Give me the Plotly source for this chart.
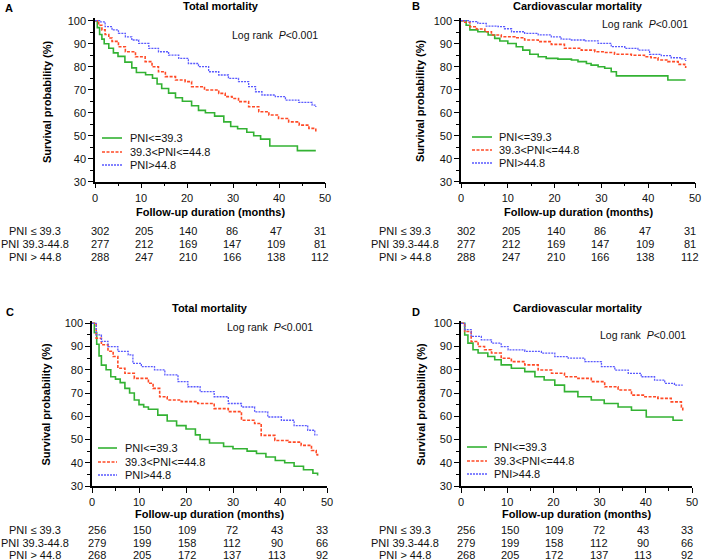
import plotly.graph_objects as go

# survival curves (months, survival %)
# panel A - total mortality
a_low_t = [0, 0.5, 1, 1.5, 2, 3, 4, 5, 6.5, 8, 9, 11, 12.5, 13.5, 14.5, 16, 17.5, 19, 21, 22.5, 24, 26, 28, 29.5, 31, 33, 34.5, 36, 38, 44, 48]
a_low_s = [100, 97, 94, 92, 90, 88, 86, 84.5, 82, 79.5, 77.5, 76.5, 75, 72.5, 70.5, 68.5, 66.5, 65, 63, 61, 60, 58.5, 56, 54, 53, 51.5, 50, 48.5, 45.5, 43.5, 43.5]
a_mid_t = [0, 0.8, 1.5, 2.2, 3, 3.7, 5.1, 6.6, 8.8, 10.9, 12.4, 13.8, 15.3, 17.5, 19.6, 21, 23.8, 26.9, 28.3, 29.8, 31.2, 33.4, 35.6, 37.8, 39.9, 42.1, 44.4, 46.5, 48]
a_mid_s = [100, 98, 96, 94, 92.5, 91, 88.7, 86.5, 84.3, 82.2, 80, 77.8, 75.7, 74.2, 73.5, 71.3, 69.9, 68.4, 67, 66.2, 64.8, 62.6, 60.4, 59, 57.5, 56, 54.6, 53.2, 51.5]
a_high_t = [0, 1, 2.2, 3.7, 5.1, 6.6, 8, 9.5, 11.7, 13.8, 16, 18.2, 20.3, 22.5, 24.7, 26.9, 29, 31.2, 33.4, 34.9, 36.3, 39.2, 41.4, 44.3, 47.2, 48]
a_high_s = [100, 99.5, 97.4, 96, 94.5, 93, 91.6, 90.1, 88, 86.5, 85, 83.6, 81.4, 80, 77.8, 76.4, 74.9, 73.5, 71.3, 69.1, 67.7, 67, 65.5, 64.5, 63.3, 62.5]

# panel B - cardiovascular mortality
b_low_t = [0, 1.1, 1.9, 3.6, 5.8, 7.2, 8.3, 10, 11.8, 13.2, 14.7, 16.5, 18.2, 20.7, 23.6, 25, 26.8, 27.8, 29.3, 30.7, 32.1, 33.2, 44.2, 48]
b_low_s = [100, 98, 96, 95.2, 93.8, 92.3, 91.2, 90.1, 88.7, 87.2, 85.4, 84.3, 83.6, 83.3, 82.9, 82.2, 81.4, 80.7, 80, 79.3, 77.8, 76, 74.2, 74.2]
b_mid_t = [0, 0.8, 1.9, 3.3, 5.1, 6.5, 8.6, 11.5, 13.6, 16.5, 19.3, 22.1, 25.7, 28.6, 30.7, 32.8, 36.4, 39.2, 40.6, 42.1, 44.2, 46.4, 47.8, 48]
b_mid_s = [100, 99.3, 97.4, 96.4, 95.2, 93.8, 93, 92.6, 91.6, 90.9, 89.7, 88, 87.2, 86.5, 86.2, 85.4, 85, 84.3, 83.9, 82.9, 82.2, 81, 80, 79.4]
b_high_t = [0, 1.9, 3.6, 5.4, 7.9, 9.3, 10.8, 13.6, 16.5, 19.3, 21.4, 23.6, 26.4, 29.3, 32.1, 35, 37.8, 40.3, 42.8, 44.9, 47.1, 48]
b_high_s = [100, 99.6, 98.8, 97.6, 97.4, 96.5, 95.2, 94.5, 93.8, 93, 92, 91.6, 91.2, 90.1, 88.7, 88, 87.2, 85.4, 84.8, 83.9, 83.4, 82.5]

# panel C - total mortality
c_low_t = [0, 0.5, 1, 1.5, 2, 3, 4, 5, 6, 7, 8, 9, 10, 11, 12, 14, 16, 18, 20, 22, 23, 25, 28, 30, 33, 35, 37, 39, 41, 43, 45, 47, 48]
c_low_s = [100, 96, 91, 86, 82, 80, 77, 76, 74.5, 72, 70, 67, 65, 64, 63, 60.5, 58, 56, 54.5, 52, 50, 48.5, 47, 46, 45, 44, 42.5, 41, 40, 38.5, 37, 35.5, 34.5]
c_mid_t = [0, 0.9, 2, 3.4, 4.5, 5.5, 7, 9, 12, 13, 14.4, 16, 19, 22.5, 26, 29, 31.8, 34.6, 36, 38.9, 41.7, 44.5, 46.7, 47.7, 48]
c_mid_s = [100, 93.6, 90.8, 88, 85.7, 80.7, 78.5, 76.3, 74.2, 72, 68.4, 67, 66.3, 65.5, 63.3, 62, 58.3, 56.9, 51.8, 49.6, 48.9, 47.5, 45.3, 43.5, 43]
c_high_t = [0, 0.9, 2, 3.4, 5.5, 7.7, 8.7, 10.5, 13.3, 15.5, 18.3, 20.4, 23, 26, 29, 31.8, 34.6, 37.4, 40.3, 43, 45.9, 47.4, 48]
c_high_s = [100, 95, 92.2, 90, 87.9, 86.4, 82.8, 81.4, 80, 77.8, 74.9, 72.7, 70.6, 68.4, 65.5, 64, 61.9, 59.7, 58.3, 56, 54, 52, 52]

# panel D - cardiovascular mortality
d_low_t = [0, 0.8, 1.5, 2.6, 3.7, 5.8, 7.3, 8.7, 10.9, 13.8, 16, 18, 20.3, 22.4, 25.3, 28.2, 31, 34, 36.9, 40.1, 45.9, 48]
d_low_s = [100, 95, 91.5, 88.6, 87.2, 85.7, 84.3, 82.1, 80.7, 79.2, 77, 75.6, 73.4, 70.6, 68.4, 67, 65.5, 64, 62.6, 59.7, 58.3, 58.3]
d_mid_t = [0, 0.8, 2.2, 3.7, 5.1, 6.6, 8.7, 10.9, 13.8, 16.7, 19.6, 22.4, 25.3, 28.2, 31.1, 34, 36.9, 39.8, 42.6, 45.5, 47.7, 48]
d_mid_s = [100, 96.5, 92.2, 90, 88.6, 87.2, 85, 83.5, 82.1, 79.9, 78.5, 77, 76.3, 74.9, 72.7, 71.3, 69.1, 68.4, 67.7, 66.2, 64, 62]
d_high_t = [0, 0.8, 2.2, 4.4, 6.6, 8.7, 10.2, 13.8, 17.4, 20.3, 23.2, 26.8, 30.4, 33.3, 36.2, 39, 41.9, 44.1, 46.2, 48]
d_high_s = [100, 97.3, 94.4, 92.9, 91.5, 90, 88.6, 87.9, 87.2, 85.7, 85, 83.5, 81.4, 79.9, 78.5, 77, 75.6, 74.2, 73.4, 73.4]

# numbers at risk
risk_times = [0, 10, 20, 30, 40, 50]
risk_ab_low = [302, 205, 140, 86, 47, 31]
risk_ab_mid = [277, 212, 169, 147, 109, 81]
risk_ab_high = [288, 247, 210, 166, 138, 112]
risk_cd_low = [256, 150, 109, 72, 43, 33]
risk_cd_mid = [279, 199, 158, 112, 90, 66]
risk_cd_high = [268, 205, 172, 137, 113, 92]

group_names = ["PNI<=39.3", "39.3<PNI<=44.8", "PNI>44.8"]
risk_labels = ["PNI \u2264 39.3", "PNI 39.3-44.8", "PNI > 44.8"]

GREEN = "#33b233"
RED = "#ff4a26"
BLUE = "#5a5aff"
FONT = "Arial, Liberation Sans, sans-serif"
W, H = 709, 560
FS = 11


def px(x):
    return x / W


def py(y):
    return 1 - y / H


def label(text, x, y, size=FS, anchor="center", color="#111", **kw):
    # paper-positioned text, pixel coords from top-left
    return dict(text=text, x=px(x), y=py(y), xref="paper", yref="paper",
                xanchor=anchor, yanchor="middle", showarrow=False,
                font=dict(family=FONT, size=size, color=color), **kw)


fig = go.Figure()

panels = [
    # axis suffix, curves, risk rows, pixel box (x0, x1, y30, y101)
    ("", [(a_low_t, a_low_s), (a_mid_t, a_mid_s), (a_high_t, a_high_s)],
     [risk_ab_low, risk_ab_mid, risk_ab_high], (95, 325, 181.7, 18.4)),
    ("2", [(b_low_t, b_low_s), (b_mid_t, b_mid_s), (b_high_t, b_high_s)],
     [risk_ab_low, risk_ab_mid, risk_ab_high], (461, 695, 181.7, 18.4)),
    ("3", [(c_low_t, c_low_s), (c_mid_t, c_mid_s), (c_high_t, c_high_s)],
     [risk_cd_low, risk_cd_mid, risk_cd_high], (92, 327, 486, 321)),
    ("4", [(d_low_t, d_low_s), (d_mid_t, d_mid_s), (d_high_t, d_high_s)],
     [risk_cd_low, risk_cd_mid, risk_cd_high], (461, 692, 486, 321)),
]

styles = [
    dict(color=GREEN, width=1.6, dash="solid"),
    dict(color=RED, width=1.6, dash="3px,1.5px"),
    dict(color=BLUE, width=1.3, dash="2px,1px"),
]

titles = ["Total mortality", "Cardiovascular mortality", "Total mortality", "Cardiovascular mortality"]
title_x = [221, 578, 210, 578]
title_y = [6, 6, 308, 308]
letters = ["A", "B", "C", "D"]
letter_pos = [(3, 8), (410, 6), (4, 312), (410, 312)]
logrank_pos = [(320, 35), (690, 24), (315, 327), (688, 335)]
legend_pos = [(102, 122, 128, [138, 152, 165]), (472, 492, 497, [137, 150, 163]),
              (98, 117, 123, [448, 462, 475]), (467, 487, 492, [447, 461, 474])]
xlabel_y = [212, 212, 514, 514]
ylabel_x = [47, 420, 45, 420]
risk_rows_y = [[231, 244, 257], [231, 244, 257], [530, 543, 555], [530, 543, 555]]
risk_label_x = [35, 405, 35, 405]

annotations = []
shapes = []

for i, (sfx, curves, risk, box) in enumerate(panels):
    x0, x1, y30, y101 = box
    xa = "x" + sfx
    ya = "y" + sfx
    for (t, s), st, name in zip(curves, styles, group_names):
        fig.add_trace(go.Scatter(x=t, y=s, mode="lines", line_shape="hv",
                                 line=st, name=name, showlegend=False,
                                 xaxis=xa, yaxis=ya))
    axis_common = dict(showline=True, linecolor="black", linewidth=1.5,
                       ticks="outside", ticklen=5, tickwidth=1.3, tickcolor="black",
                       showgrid=False, zeroline=False, automargin=False,
                       tickfont=dict(family=FONT, size=FS, color="#111"),
                       minor=dict(ticks="outside", ticklen=3, tickwidth=1, tickcolor="black", dtick=5))
    fig.update_layout(**{
        "xaxis" + sfx: dict(domain=[px(x0), px(x1)], range=[0, 50], dtick=10,
                            anchor=ya, **axis_common),
        "yaxis" + sfx: dict(domain=[py(y30), py(y101)], range=[30, 101],
                            tickvals=[30, 40, 50, 60, 70, 80, 90, 100],
                            anchor=xa, **axis_common),
    })

    cx = (x0 + x1) / 2
    annotations.append(label("<b>" + titles[i] + "</b>", title_x[i], title_y[i], color="black"))
    lx, ly = letter_pos[i]
    annotations.append(label("<b>" + letters[i] + "</b>", lx, ly, anchor="left", color="black"))
    rx, ry = logrank_pos[i]
    annotations.append(label("Log rank  <i>P</i>&lt;0.001", rx, ry, size=10.5, anchor="right"))
    annotations.append(label("<b>Follow-up duration (months)</b>", cx, xlabel_y[i], color="black"))
    annotations.append(label("<b>Survival probability (%)</b>", ylabel_x[i], (y30 + y101) / 2 + 1,
                             color="black", textangle=-90))

    # legend drawn by hand (tight spacing like the original)
    l0, l1, tx, rows = legend_pos[i]
    for st, name, ry_ in zip(styles, group_names, rows):
        shapes.append(dict(type="line", xref="paper", yref="paper",
                           x0=px(l0), x1=px(l1), y0=py(ry_), y1=py(ry_),
                           line=dict(color=st["color"], width=st["width"], dash=st["dash"])))
        annotations.append(label(name.replace("<", "&lt;"), tx, ry_, anchor="left"))

    # numbers at risk (the original table is a touch narrower than the axis)
    for rlab, counts, ry_ in zip(risk_labels, risk, risk_rows_y[i]):
        annotations.append(label(rlab, risk_label_x[i], ry_))
        for t, n in zip(risk_times, counts):
            annotations.append(dict(text=str(n), x=25 + (t - 25) * 0.955, y=py(ry_),
                                    xref=xa, yref="paper",
                                    xanchor="center", yanchor="middle", showarrow=False,
                                    font=dict(family=FONT, size=FS, color="#111")))

fig.update_layout(width=W, height=H, margin=dict(l=0, r=0, t=0, b=0),
                  template="none",
                  paper_bgcolor="white", plot_bgcolor="white",
                  showlegend=False, annotations=annotations, shapes=shapes,
                  font=dict(family=FONT))

# drop the default body margin so the figure sits at the page corner
fig.write_html("out.html", config={"displayModeBar": False},
               post_script="document.body.style.margin='0';document.body.style.overflow='hidden';")
